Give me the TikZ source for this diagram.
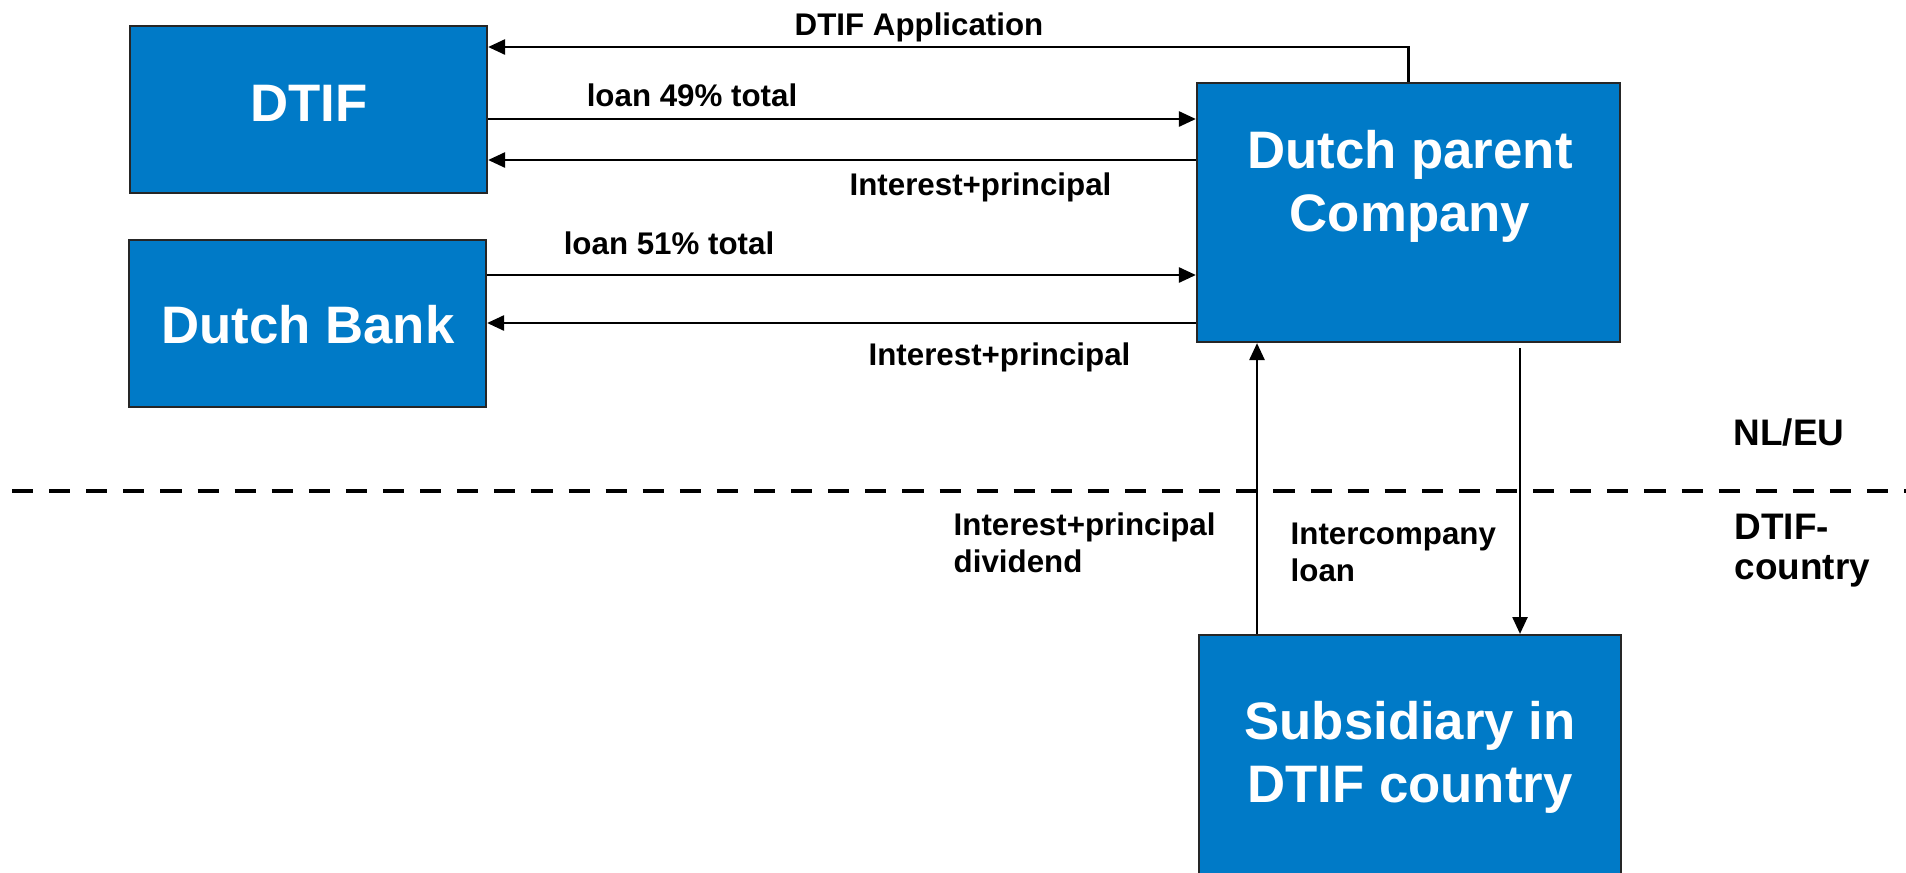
\documentclass[tikz,border=0pt]{standalone}
\usepackage{fontspec}
\setmainfont{Liberation Sans}
\usetikzlibrary{arrows.meta}
\definecolor{dtifblue}{RGB}{0,122,199}
\begin{document}
\begin{tikzpicture}[x=.01cm,y=-.01cm,
 box/.style={draw=black!85,line width=.6pt,fill=dtifblue,inner sep=0pt},
 boxtext/.style={text=white,inner sep=0pt,align=center,font=\fontsize{15}{18}\selectfont\bfseries},
 lbl/.style={inner sep=0pt,font=\fontsize{8.9}{10.6}\selectfont\bfseries},
 zone/.style={inner sep=0pt,align=left,font=\fontsize{10.5}{11.4}\selectfont\bfseries},
 arr/.style={-{Triangle[length=4.8pt,width=4.3pt]},line width=.6pt}]
\useasboundingbox (0,0) rectangle (1906,872);
% boxes
\node[box,minimum width=3.57cm,minimum height=1.67cm] (dtif) at (308.5,109.5) {};
\node[box,minimum width=3.57cm,minimum height=1.67cm] (bank) at (307.5,323.5) {};
\node[box,minimum width=4.23cm,minimum height=2.59cm] (parent) at (1408.5,212.5) {};
\node[box,minimum width=4.22cm,minimum height=2.59cm] (sub) at (1410,764.5) {};
\node[boxtext] (dtiftxt) at (309,103) {DTIF};
\node[boxtext] (banktxt) at (308,325) {Dutch Bank};
\node[boxtext] (parenttxt) at (1410,186.5) {Dutch parent\\Company};
\node[boxtext] (subtxt) at (1410,757.5) {Subsidiary in\\DTIF country};
% border NL/EU -- DTIF country
\draw[line width=1.4pt,dash pattern=on 6pt off 4.55pt] (12,491) -- (1906,491);
\node[zone,anchor=base] (nleu) at (1789,445) {NL/EU};
\node[zone,anchor=north west] (dtifc) at (1734,513) {DTIF-\\country};
% flows
\draw[arr] (parent.north) |- (dtif.east |- 0,47);
\foreach \a/\b/\y in {dtif.east/parent.west/119, parent.west/dtif.east/160, bank.east/parent.west/275, parent.west/bank.east/323}
  \draw[arr] (\a |- 0,\y) -- (\b |- 0,\y);
\draw[arr] (1257,0 |- sub.north) -- (1257,0 |- parent.south);
\draw[arr] ([yshift=-.05cm]1520,0 |- parent.south) -- (1520,0 |- sub.north);
\node[lbl,anchor=base] (app) at (919,35) {DTIF Application};
\node[lbl,anchor=base] (loana) at (692,106) {loan 49\% total};
\node[lbl,anchor=base] (retura) at (980.5,195) {Interest+principal};
\node[lbl,anchor=base] (loanb) at (669,254) {loan 51\% total};
\node[lbl,anchor=base] (returb) at (999.5,365) {Interest+principal};
\node[lbl,anchor=north west,align=left] (divid) at (953,512) {Interest+principal\\dividend};
\node[lbl,anchor=north west,align=left] (icloan) at (1290,522) {Intercompany\\loan};
\end{tikzpicture}
\end{document}
